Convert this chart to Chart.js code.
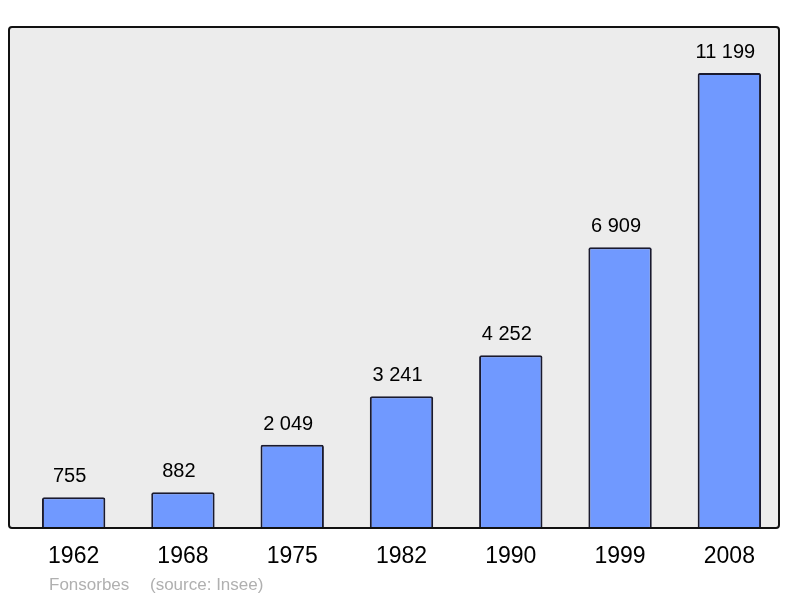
<!DOCTYPE html>
<html>
<head>
<meta charset="utf-8">
<script src="https://cdn.jsdelivr.net/npm/chart.js@4"></script>
<style>
  html, body { margin: 0; padding: 0; background: #fff; }
  canvas { display: block; }
</style>
</head>
<body>
<canvas id="chart" width="800" height="598"></canvas>
<script>
// Data
const years = ['1962', '1968', '1975', '1982', '1990', '1999', '2008'];
const population = [755, 882, 2049, 3241, 4252, 6909, 11199];
const commune = 'Fonsorbes';
const source = '(source: Insee)';

function fmt(n) {
    return String(n).replace(/\B(?=(\d{3})+(?!\d))/g, ' ');
}

// Grey panel behind the bars
const panel = {
    id: 'panel',
    beforeDraw(chart) {
        const ctx = chart.ctx;
        const a = chart.chartArea;
        const x = a.left - 10, y = a.top, w = a.right - 5 - x, h = a.bottom - a.top;
        ctx.save();
        ctx.beginPath();
        ctx.roundRect(x, y, w, h, 3);
        ctx.fillStyle = '#ececec';
        ctx.fill();
        ctx.restore();
    },
    afterDatasetsDraw(chart) {
        const ctx = chart.ctx;
        const a = chart.chartArea;
        const x = a.left - 10, y = a.top, w = a.right - 5 - x, h = a.bottom - a.top;
        ctx.save();
        ctx.beginPath();
        ctx.roundRect(x, y, w, h, 3);
        ctx.lineWidth = 2;
        ctx.strokeStyle = '#111';
        ctx.stroke();

        // value labels
        ctx.fillStyle = '#000';
        ctx.font = '20px "Liberation Sans", Arial, sans-serif';
        ctx.textAlign = 'center';
        ctx.textBaseline = 'alphabetic';
        chart.getDatasetMeta(0).data.forEach((bar, i) => {
            ctx.fillText(fmt(population[i]), bar.x - 4, bar.y - 15);
        });

        // footer
        ctx.fillStyle = '#b0b0b0';
        ctx.font = '17px "Liberation Sans", Arial, sans-serif';
        ctx.textAlign = 'left';
        ctx.fillText(commune, 49, 590);
        ctx.fillText(source, 150, 590);
        ctx.restore();
    }
};

new Chart(document.getElementById('chart'), {
    type: 'bar',
    data: {
        labels: years,
        datasets: [{
            data: population,
            backgroundColor: '#7099ff',
            borderColor: '#1a1a2e',
            borderWidth: 2,
            borderRadius: 2,
            borderSkipped: 'bottom',
            barPercentage: 0.58,
            categoryPercentage: 1
        }]
    },
    options: {
        responsive: false,
        animation: false,
        layout: { padding: { left: 19, right: 16, top: 27, bottom: 0 } },
        plugins: { legend: { display: false }, tooltip: { enabled: false } },
        scales: {
            y: { display: false, min: 0, max: 12330 },
            x: {
                grid: { display: false, drawTicks: false },
                border: { display: false },
                ticks: {
                    color: '#000',
                    padding: 15,
                    font: { size: 23, family: '"Liberation Sans", Arial, sans-serif' }
                },
                afterFit(scale) { scale.height = 70; }
            }
        }
    },
    plugins: [panel]
});
</script>
</body>
</html>
